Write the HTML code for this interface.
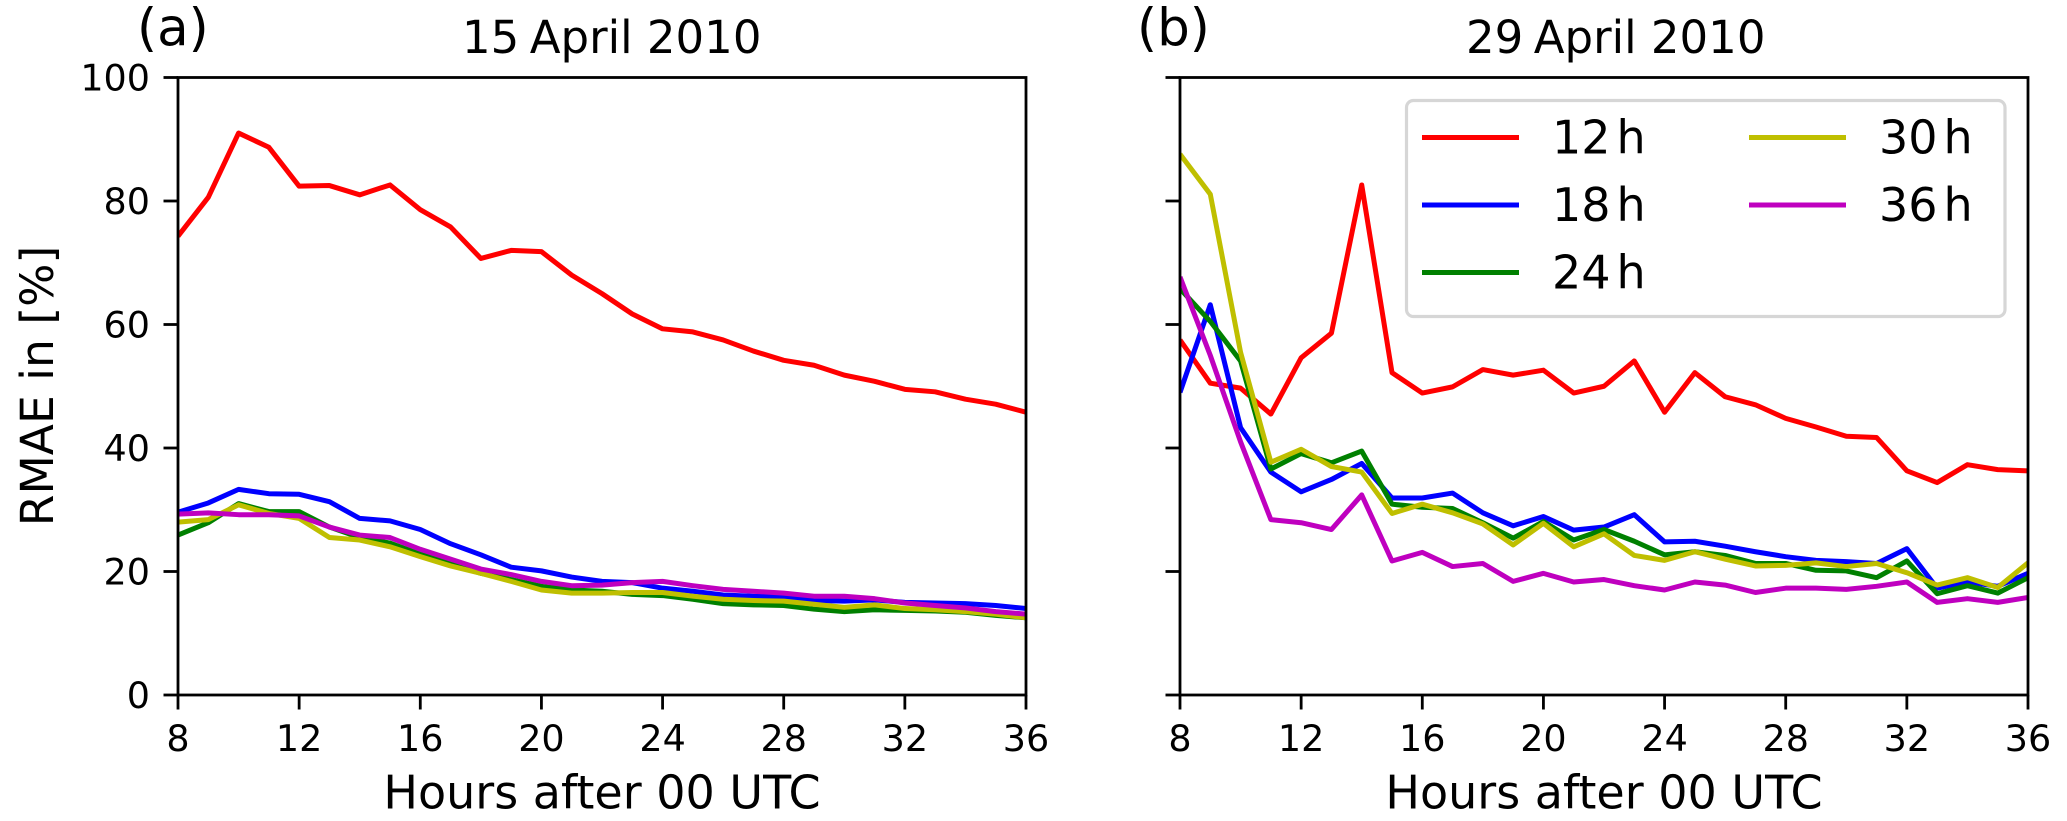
<!DOCTYPE html>
<html lang="en">
<head>
<meta charset="utf-8">
<title>RMAE by forecast hour</title>
<style>
html,body{margin:0;padding:0;background:#fff;width:2067px;height:821px;overflow:hidden}
svg{display:block}
text{font-family:"DejaVu Sans","Liberation Sans",sans-serif;fill:#000}
</style>
</head>
<body>
<svg id="chart" xmlns="http://www.w3.org/2000/svg" width="2067" height="821" viewBox="0 0 2067 821">
  <defs>
    <clipPath id="clip-a"><rect x="178" y="77.5" width="848" height="617.5"/></clipPath>
    <clipPath id="clip-b"><rect x="1180" y="77.5" width="848" height="617.5"/></clipPath>
  </defs>
  <rect x="0" y="0" width="2067" height="821" fill="#fff"/>
  <g id="panel-a"></g>
  <g id="panel-b"></g>

  <text x="137" y="45.5" font-size="51.5">(a)</text>
  <text x="1137" y="45.5" font-size="51.5">(b)</text>
  <text x="462" y="53" font-size="45">15<tspan dx="10.5">April 2010</tspan></text>
  <text x="1466" y="53" font-size="45">29<tspan dx="10.5">April 2010</tspan></text>
  <text x="0" y="0" font-size="45.6" text-anchor="middle" transform="translate(53 386) rotate(-90)">RMAE in [%]</text>
  <text x="602" y="808.5" font-size="46" text-anchor="middle">Hours after 00 UTC</text>
  <text x="1604" y="808.5" font-size="46" text-anchor="middle">Hours after 00 UTC</text>

  <g id="legend">
    <rect x="1406.5" y="100.5" width="598.5" height="216" rx="7" ry="7" fill="#fff" stroke="#d6d6d6" stroke-width="3.2"/>
    <g>
      <line x1="1422" y1="137.5" x2="1519" y2="137.5" stroke="#ff0000" stroke-width="5"/>
      <text x="1552" y="153.5" font-size="46">12<tspan dx="6">h</tspan></text>
    </g>
    <g>
      <line x1="1422" y1="205" x2="1519" y2="205" stroke="#0000ff" stroke-width="5"/>
      <text x="1552" y="221" font-size="46">18<tspan dx="6">h</tspan></text>
    </g>
    <g>
      <line x1="1422" y1="272.5" x2="1519" y2="272.5" stroke="#008000" stroke-width="5"/>
      <text x="1552" y="288.5" font-size="46">24<tspan dx="6">h</tspan></text>
    </g>
    <g>
      <line x1="1749" y1="137.5" x2="1846" y2="137.5" stroke="#bfbf00" stroke-width="5"/>
      <text x="1879" y="153.5" font-size="46">30<tspan dx="6">h</tspan></text>
    </g>
    <g>
      <line x1="1749" y1="205" x2="1846" y2="205" stroke="#bf00bf" stroke-width="5"/>
      <text x="1879" y="221" font-size="46">36<tspan dx="6">h</tspan></text>
    </g>
  </g>
</svg>
<script>
const hours = [8,9,10,11,12,13,14,15,16,17,18,19,20,21,22,23,24,25,26,27,28,29,30,31,32,33,34,35,36];
const xTickLabels = [8,12,16,20,24,28,32,36];
const yTickLabels = [0,20,40,60,80,100];

const a12h = [74.3,80.6,91,88.7,82.4,82.5,81,82.6,78.6,75.8,70.7,72,71.8,68,65,61.7,59.3,58.8,57.5,55.7,54.2,53.4,51.8,50.8,49.5,49.1,47.9,47.1,45.8];
const a18h = [29.6,31.1,33.3,32.6,32.5,31.3,28.6,28.2,26.8,24.5,22.7,20.7,20.1,19.1,18.4,18.2,17.3,16.8,16.2,16,15.9,15.3,15.2,15.4,15,14.9,14.8,14.5,14];
const a24h = [25.9,27.9,31,29.7,29.7,27.2,25.5,24.6,22.8,21.3,19.7,18.7,17.6,17,16.8,16.3,16.1,15.5,14.8,14.6,14.5,13.9,13.5,13.8,13.7,13.6,13.4,12.9,12.5];
const a30h = [28,28.4,30.8,29.4,28.6,25.5,25.1,24,22.4,20.9,19.7,18.4,17,16.5,16.5,16.6,16.6,16,15.5,15.3,15.2,14.7,14.2,14.6,14,13.8,13.5,13.1,12.5];
const a36h = [29.3,29.5,29.2,29.2,29,27.2,25.9,25.5,23.6,22,20.4,19.5,18.4,17.7,17.8,18.2,18.4,17.7,17.1,16.8,16.5,16,16,15.6,14.9,14.5,14.1,13.5,13.1];

const b12h = [57.5,50.5,49.7,45.5,54.6,58.6,82.6,52.2,48.9,49.9,52.7,51.8,52.6,48.9,50,54.1,45.8,52.2,48.3,47,44.8,43.4,41.9,41.7,36.3,34.4,37.3,36.5,36.3];
const b18h = [49,63.2,43.3,36.1,32.9,34.9,37.5,31.9,31.9,32.7,29.5,27.4,28.9,26.7,27.2,29.2,24.8,24.9,24.1,23.2,22.4,21.8,21.6,21.3,23.7,17.3,18.3,17.6,19.7];
const b24h = [65.8,60.5,54.1,36.6,39.1,37.6,39.5,30.9,30.4,30.2,27.9,25.4,28.1,25.1,26.8,24.9,22.7,23.2,22.6,21.3,21.3,20.2,20.1,19,21.7,16.4,17.7,16.5,19];
const b30h = [87.6,81.1,55.5,37.7,39.8,37,36.1,29.4,30.9,29.5,27.7,24.3,27.8,24,26.1,22.6,21.8,23.2,22,20.9,21,21.4,20.8,21.3,19.8,17.8,19,17.4,21.4];
const b36h = [67.7,55,41,28.4,27.9,26.8,32.4,21.7,23.1,20.8,21.3,18.4,19.7,18.3,18.7,17.7,17,18.3,17.8,16.6,17.3,17.3,17.1,17.6,18.3,15,15.6,15,15.8];

const seriesColors = ['#ff0000','#0000ff','#008000','#bfbf00','#bf00bf'];
const panelASeries = [a12h,a18h,a24h,a30h,a36h];
const panelBSeries = [b12h,b18h,b24h,b30h,b36h];

const SVG_NS = 'http://www.w3.org/2000/svg';
const plotTop = 77.5, plotBottom = 695, plotWidth = 848;
const xMin = 8, xMax = 36, yMin = 0, yMax = 100;

function yScale(v) {
  return plotBottom - (v - yMin) / (yMax - yMin) * (plotBottom - plotTop);
}
function xScale(left, h) {
  return left + (h - xMin) / (xMax - xMin) * plotWidth;
}
function makeEl(tag, attrs) {
  const el = document.createElementNS(SVG_NS, tag);
  for (const k in attrs) el.setAttribute(k, attrs[k]);
  return el;
}

function drawPanel(groupId, clipId, left, allSeries, showYLabels) {
  const g = document.getElementById(groupId);

  allSeries.forEach(function (values, s) {
    const pts = values.map(function (v, i) {
      return xScale(left, hours[i]).toFixed(2) + ',' + yScale(v).toFixed(2);
    }).join(' ');
    const line = makeEl('polyline', {
      points: pts, fill: 'none', stroke: seriesColors[s], 'stroke-width': 5,
      'stroke-linejoin': 'round', 'clip-path': 'url(#' + clipId + ')'
    });
    
    
    g.appendChild(line);
  });

  const frame = makeEl('rect', {
    x: left, y: plotTop, width: plotWidth, height: plotBottom - plotTop,
    fill: 'none', stroke: '#000', 'stroke-width': 2.8
  });
  
  
  g.appendChild(frame);

  xTickLabels.forEach(function (t) {
    const x = xScale(left, t);
    const tick = makeEl('line', {
      x1: x, y1: plotBottom, x2: x, y2: plotBottom + 14.5, stroke: '#000', 'stroke-width': 2.8
    });
    
    
    g.appendChild(tick);
    const label = makeEl('text', { x: x, y: 751, 'font-size': 36.5, 'text-anchor': 'middle' });
    label.textContent = String(t);
    
    
    g.appendChild(label);
  });

  yTickLabels.forEach(function (t) {
    const y = yScale(t);
    const tick = makeEl('line', {
      x1: left - 14.5, y1: y, x2: left, y2: y, stroke: '#000', 'stroke-width': 2.8
    });
    
    
    g.appendChild(tick);
    if (showYLabels) {
      const label = makeEl('text', { x: left - 28, y: y + 13.2, 'font-size': 36.5, 'text-anchor': 'end' });
      label.textContent = String(t);
      
      
      g.appendChild(label);
    }
  });
}

drawPanel('panel-a', 'clip-a', 178, panelASeries, true);
drawPanel('panel-b', 'clip-b', 1180, panelBSeries, false);
</script>
</body>
</html>
